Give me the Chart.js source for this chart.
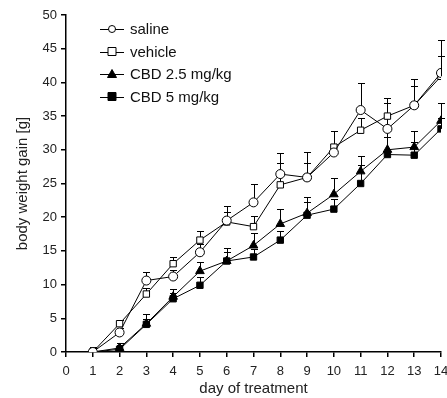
<!DOCTYPE html>
<html>
<head>
<meta charset="utf-8">
<script src="https://cdn.jsdelivr.net/npm/chart.js@4/dist/chart.umd.min.js"></script>
<style>
html,body{margin:0;padding:0;background:#fff;}
#wrap{width:447px;height:398px;position:relative;}
</style>
</head>
<body>
<div id="wrap"><canvas id="c" width="447" height="398"></canvas></div>
<script>
const days = [1,2,3,4,5,6,7,8,9,10,11,12,13,14];
const xTicks = [0,1,2,3,4,5,6,7,8,9,10,11,12,13,14];
const yTicks = [0,5,10,15,20,25,30,35,40,45,50];

const seriesNames = ["saline","vehicle","CBD 2.5 mg/kg","CBD 5 mg/kg"];

const salineMean  = [0, 2.9, 10.6, 11.2, 14.8, 19.5, 22.2, 26.4, 25.9, 29.6, 35.9, 33.1, 36.6, 41.4];
const salineErr   = [0.8, 0.6, 1.3, 1.0, 1.2, 2.2, 2.7, 3.1, 3.8, 3.2, 4.0, 3.9, 2.8, 4.9];
const vehicleMean = [0, 4.2, 8.6, 13.1, 16.6, 19.3, 18.6, 24.8, 25.9, 30.4, 32.9, 35.0, 36.6, 40.9];
const vehicleErr  = [0.6, 0.5, 0.9, 1.0, 1.4, 1.4, 1.6, 3.3, 2.2, 2.4, 1.8, 2.7, 3.9, 3.0];
const cbd25Mean   = [0, 0.6, 4.2, 8.2, 12.0, 13.5, 15.8, 19.0, 20.6, 23.4, 26.8, 30.0, 30.4, 34.3];
const cbd25Err    = [0.8, 0.8, 1.4, 1.2, 1.3, 1.9, 1.9, 2.2, 2.4, 2.4, 2.3, 2.8, 2.4, 2.7];
const cbd5Mean    = [0, 0.4, 4.1, 7.9, 9.9, 13.5, 14.1, 16.6, 20.3, 21.2, 25.0, 29.3, 29.2, 33.1];
const cbd5Err     = [0.5, 0.6, 0.8, 0.9, 1.3, 1.4, 1.2, 1.4, 1.9, 1.5, 2.7, 2.6, 1.9, 1.6];

function pts(means){ return days.map((d,i)=>({x:d, y:means[i]})); }

const FONT = '"Liberation Sans", Arial, sans-serif';

const errorBars = {
  id:'errorBars',
  beforeDatasetsDraw(chart){
    const ctx = chart.ctx, ys = chart.scales.y, xs = chart.scales.x;
    ctx.save();
    ctx.strokeStyle = '#000'; ctx.lineWidth = 1;
    chart.data.datasets.forEach(ds=>{
      ds.data.forEach((p,i)=>{
        const e = ds.errors[i];
        const px = Math.round(xs.getPixelForValue(p.x)) + 0.5;
        const y0 = ys.getPixelForValue(p.y);
        const y1 = Math.round(ys.getPixelForValue(p.y + e)) + 0.5;
        ctx.beginPath();
        ctx.moveTo(px, y0); ctx.lineTo(px, y1);
        ctx.moveTo(px-3.5, y1); ctx.lineTo(px+3.5, y1);
        ctx.stroke();
      });
    });
    ctx.restore();
  }
};

const legendPlugin = {
  id:'customLegend',
  afterDraw(chart){
    const ctx = chart.ctx;
    ctx.save();
    const x0 = 100, x1 = 124, tx = 130;
    chart.data.datasets.forEach((ds,i)=>{
      const y = 29 + i*22.5;
      ctx.strokeStyle = '#000'; ctx.lineWidth = 1;
      ctx.beginPath(); ctx.moveTo(x0, Math.round(y)+0.5); ctx.lineTo(x1, Math.round(y)+0.5); ctx.stroke();
      const cx = (x0+x1)/2;
      ctx.fillStyle = ds.pointBackgroundColor;
      ctx.beginPath();
      if (ds.pointStyle === 'circle') {
        ctx.arc(cx, y, 3.5, 0, Math.PI*2);
      } else if (ds.pointStyle === 'rect') {
        ctx.rect(cx-4, y-4, 8, 8);
      } else if (ds.pointStyle === 'triangle') {
        ctx.moveTo(cx, y-4.5); ctx.lineTo(cx+4.5, y+3.5); ctx.lineTo(cx-4.5, y+3.5); ctx.closePath();
      }
      ctx.fill(); ctx.stroke();
      ctx.fillStyle = '#111';
      ctx.font = '15px ' + FONT;
      ctx.textBaseline = 'middle';
      ctx.fillText(ds.label, tx, y+1);
    });
    ctx.restore();
  }
};

function mk(label, means, errs, style, fill, radius){
  return {
    label, data: pts(means), errors: errs,
    borderColor:'#000', borderWidth:1,
    pointStyle: style, pointRadius: radius, pointHoverRadius: radius,
    pointBackgroundColor: fill, pointBorderColor:'#000', pointBorderWidth:1,
    showLine:true, tension:0, fill:false
  };
}

new Chart(document.getElementById('c'), {
  type:'scatter',
  data:{ datasets:[
    mk(seriesNames[0], salineMean, salineErr, 'circle', '#fff', 4.5),
    mk(seriesNames[1], vehicleMean, vehicleErr, 'rect', '#fff', 4.5),
    mk(seriesNames[2], cbd25Mean, cbd25Err, 'triangle', '#000', 5),
    mk(seriesNames[3], cbd5Mean, cbd5Err, 'rect', '#000', 4.5)
  ]},
  options:{
    responsive:false, animation:false,
    layout:{ padding:{ top:15, right:6, left:0, bottom:0 } },
    plugins:{ legend:{display:false}, tooltip:{enabled:false} },
    scales:{
      x:{
        type:'linear', min:0, max:14,
        afterBuildTicks(s){ s.ticks = xTicks.map(v=>({value:v})); },
        afterFit(s){ s.height = 46; s.paddingRight = 0; s.paddingLeft = 0; },
        grid:{ display:true, drawOnChartArea:false, drawTicks:true, tickLength:5, color:'#000', lineWidth:1.5 },
        border:{ display:true, color:'#000', width:1.5 },
        ticks:{ color:'#222', padding:7, font:{ family:FONT, size:13 }, maxRotation:0, autoSkip:false },
        title:{ display:true, text:'day of treatment', color:'#222', padding:{top:0,bottom:0}, font:{ family:FONT, size:15 } }
      },
      y:{
        type:'linear', min:0, max:50,
        afterBuildTicks(s){ s.ticks = yTicks.map(v=>({value:v})); },
        afterFit(s){ s.width = 66; s.paddingTop = 0; s.paddingBottom = 0; },
        grid:{ display:true, drawOnChartArea:false, drawTicks:true, tickLength:5, color:'#000', lineWidth:1.5 },
        border:{ display:true, color:'#000', width:1.5 },
        ticks:{ color:'#222', padding:4, font:{ family:FONT, size:13 } },
        title:{ display:true, text:'body weight gain [g]', color:'#222', padding:{top:14,bottom:0}, font:{ family:FONT, size:15 } }
      }
    }
  },
  plugins:[errorBars, legendPlugin]
});
</script>
</body>
</html>
